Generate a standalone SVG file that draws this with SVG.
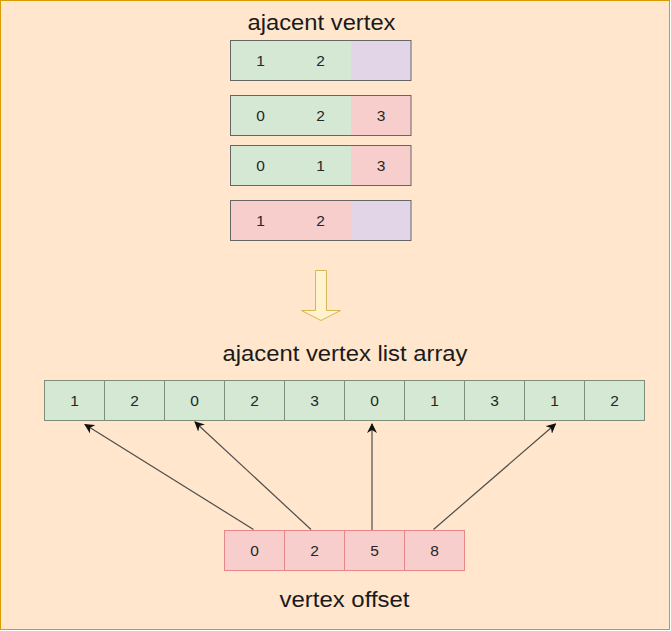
<svg xmlns="http://www.w3.org/2000/svg" width="671" height="631" viewBox="0 0 671 631">
<defs>
<style>
.t{font-family:"Liberation Sans",Arial,sans-serif;fill:#1a1a1a;text-anchor:middle}
.d{font-size:15.5px;fill:#262626}
.h{font-size:22px}
.g{fill:#d5e8d4}
.p{fill:#e1d5e7}
.r{fill:#f8cecc}
.ob{fill:none;stroke:#666666;stroke-width:1}
.ac{fill:#d5e8d4;stroke:#7d8f7b;stroke-width:1}
.oc{fill:#f8cecc;stroke:#e6878a;stroke-width:1}
.ln{fill:none;stroke:#4d4d4d;stroke-width:1.2;marker-end:url(#ah)}
</style>
<marker id="ah" viewBox="0 0 10 10" refX="9" refY="5" markerWidth="10" markerHeight="10" markerUnits="userSpaceOnUse" orient="auto">
<path d="M0,0 L10,5 L0,10 L3,5 Z" fill="#111111"/>
</marker>
</defs>
<rect id="background" x="0.5" y="0.5" width="669" height="629" fill="#ffe6cc" stroke="#d79b00" stroke-width="1"/>

<g id="title-top"><text class="t h" x="321.5" y="30" textLength="148" lengthAdjust="spacingAndGlyphs">ajacent vertex</text></g>

<g id="row0">
<rect class="g" x="230.5" y="40.5" width="120.5" height="40"/>
<rect class="p" x="351" y="40.5" width="60" height="40"/>
<rect class="ob" x="230.5" y="40.5" width="180.5" height="40"/>
<text class="t d" x="260.5" y="66">1</text>
<text class="t d" x="320.5" y="66">2</text>
</g>
<g id="row1">
<rect class="g" x="230.5" y="95.5" width="120.5" height="40"/>
<rect class="r" x="351" y="95.5" width="60" height="40"/>
<rect class="ob" x="230.5" y="95.5" width="180.5" height="40"/>
<text class="t d" x="260.5" y="121">0</text>
<text class="t d" x="320.5" y="121">2</text>
<text class="t d" x="381" y="121">3</text>
</g>
<g id="row2">
<rect class="g" x="230.5" y="145.5" width="120.5" height="40"/>
<rect class="r" x="351" y="145.5" width="60" height="40"/>
<rect class="ob" x="230.5" y="145.5" width="180.5" height="40"/>
<text class="t d" x="260.5" y="171">0</text>
<text class="t d" x="320.5" y="171">1</text>
<text class="t d" x="381" y="171">3</text>
</g>
<g id="row3">
<rect class="r" x="230.5" y="200.5" width="120.5" height="40"/>
<rect class="p" x="351" y="200.5" width="60" height="40"/>
<rect class="ob" x="230.5" y="200.5" width="180.5" height="40"/>
<text class="t d" x="260.5" y="226">1</text>
<text class="t d" x="320.5" y="226">2</text>
</g>

<g id="down-arrow">
<polygon points="315.5,270.5 326.5,270.5 326.5,310.5 340.5,310.5 321,320.5 301.5,310.5 315.5,310.5" fill="#fff2cc" stroke="#d6b656" stroke-width="1"/>
</g>

<g id="title-array"><text class="t h" x="345" y="361" textLength="245" lengthAdjust="spacingAndGlyphs">ajacent vertex list array</text></g>

<g id="adjacency-array">
<rect class="ac" x="44.5" y="380.5" width="60" height="40"/>
<rect class="ac" x="104.5" y="380.5" width="60" height="40"/>
<rect class="ac" x="164.5" y="380.5" width="60" height="40"/>
<rect class="ac" x="224.5" y="380.5" width="60" height="40"/>
<rect class="ac" x="284.5" y="380.5" width="60" height="40"/>
<rect class="ac" x="344.5" y="380.5" width="60" height="40"/>
<rect class="ac" x="404.5" y="380.5" width="60" height="40"/>
<rect class="ac" x="464.5" y="380.5" width="60" height="40"/>
<rect class="ac" x="524.5" y="380.5" width="60" height="40"/>
<rect class="ac" x="584.5" y="380.5" width="60" height="40"/>
<text class="t d" x="74.5" y="406">1</text>
<text class="t d" x="134.5" y="406">2</text>
<text class="t d" x="194.5" y="406">0</text>
<text class="t d" x="254.5" y="406">2</text>
<text class="t d" x="314.5" y="406">3</text>
<text class="t d" x="374.5" y="406">0</text>
<text class="t d" x="434.5" y="406">1</text>
<text class="t d" x="494.5" y="406">3</text>
<text class="t d" x="554.5" y="406">1</text>
<text class="t d" x="614.5" y="406">2</text>
</g>

<g id="offset-array">
<rect class="oc" x="224.5" y="530.5" width="60" height="40"/>
<rect class="oc" x="284.5" y="530.5" width="60" height="40"/>
<rect class="oc" x="344.5" y="530.5" width="60" height="40"/>
<rect class="oc" x="404.5" y="530.5" width="60" height="40"/>
<text class="t d" x="254.5" y="556">0</text>
<text class="t d" x="314.5" y="556">2</text>
<text class="t d" x="374.5" y="556">5</text>
<text class="t d" x="434.5" y="556">8</text>
</g>

<g id="title-offset"><text class="t h" x="344.5" y="607" textLength="130" lengthAdjust="spacingAndGlyphs">vertex offset</text></g>

<g id="connectors">
<line class="ln" x1="253.5" y1="529.5" x2="85" y2="424.5"/>
<line class="ln" x1="311" y1="529.5" x2="195" y2="422"/>
<line class="ln" x1="372" y1="530" x2="372" y2="424"/>
<line class="ln" x1="433.5" y1="529.5" x2="555.5" y2="424"/>
</g>
</svg>
